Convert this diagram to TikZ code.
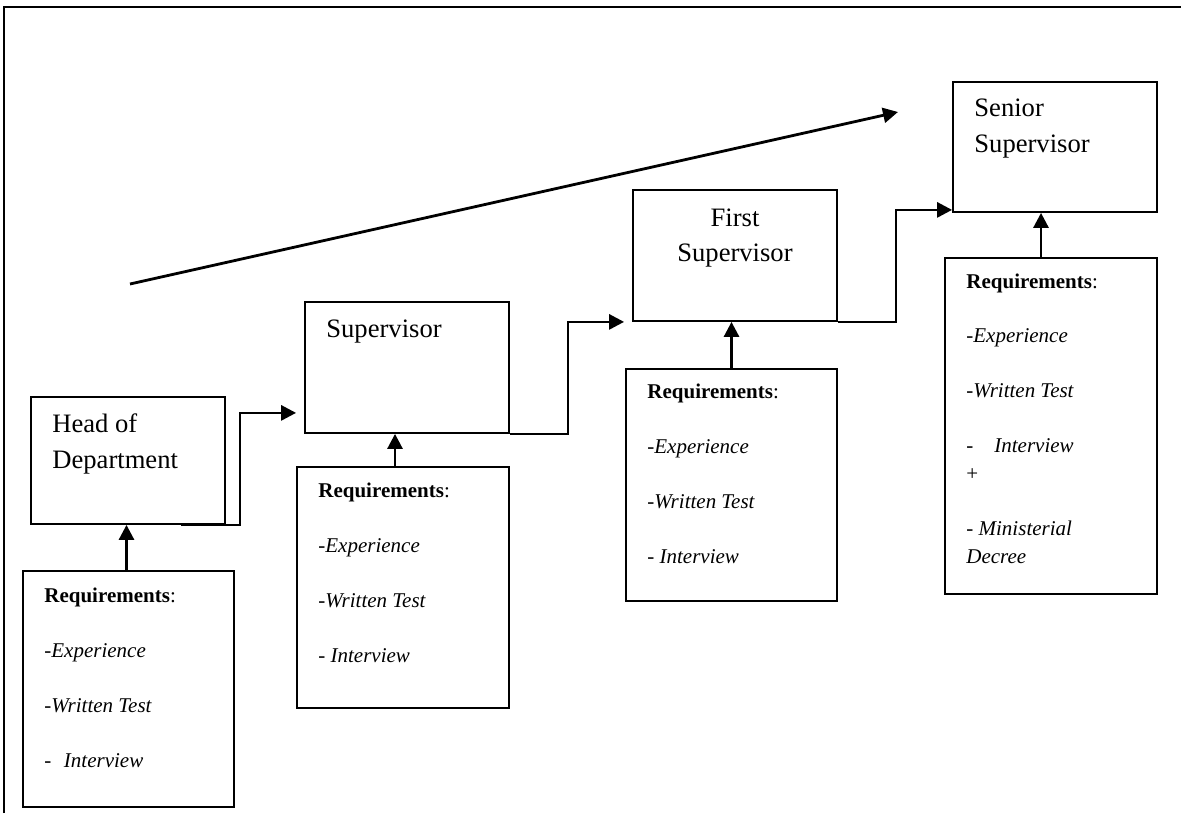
\documentclass[tikz,border=0pt]{standalone}
\usepackage{fontspec}
\setmainfont{Liberation Serif}
\usetikzlibrary{arrows.meta,fit,calc}
\tikzset{
  box/.style={draw, line width=0.9pt, inner sep=0pt, fit={#1}},
  conn/.style={line width=1.4pt, -{Triangle[length=7.5pt,width=7.5pt]}},
  ttl/.style={anchor=base west, inner sep=0pt, font=\fontsize{13.3}{16}\selectfont},
  ttlc/.style={anchor=base, inner sep=0pt, font=\fontsize{13.3}{16}\selectfont},
  req/.style={anchor=base west, inner sep=0pt, font=\fontsize{10.5}{13}\selectfont},
  frame/.style={line width=1pt}
}
\begin{document}
\begin{tikzpicture}[x=0.5pt,y=-0.5pt]
\useasboundingbox (0,0) rectangle (1181,813);
% outer frame
\draw[frame] (4,813) -- (4,7) -- (1181,7);
% position boxes
\node[box={(31,397) (225,524)}] (hod) {};
\node[box={(305,302) (509,433)}] (sup) {};
\node[box={(633,190) (837,321)}] (first) {};
\node[box={(953,82) (1157,212)}] (senior) {};
% requirement boxes
\node[box={(23,571) (234,807)}] (r1) {};
\node[box={(297,467) (509,708)}] (r2) {};
\node[box={(626,369) (837,601)}] (r3) {};
\node[box={(945,258) (1157,594)}] (r4) {};
% titles
\node[ttl] (hodA) at (52,432) {Head of};
\node[ttl] (hodB) at (52,468) {Department};
\node[ttl] (supA) at (326,337) {Supervisor};
\node[ttlc] (firstA) at (735,226) {First};
\node[ttlc] (firstB) at (735,261) {Supervisor};
\node[ttl] (senA) at (974,117) {Senior};
\node[ttl] (senB) at (974,152) {Supervisor};
% requirements 1
\node[req] (r1a) at (44,602) {\textbf{Requirements}:};
\node[req] (r1b) at (44,657) {-\textit{Experience}};
\node[req] (r1c) at (44,712) {-\textit{Written Test}};
\node[req] (r1d) at (44,767) {-\hspace{0.6em}\textit{Interview}};
% requirements 2
\node[req] (r2a) at (318,497) {\textbf{Requirements}:};
\node[req] (r2b) at (318,552) {-\textit{Experience}};
\node[req] (r2c) at (318,607) {-\textit{Written Test}};
\node[req] (r2d) at (318,662) {- \textit{Interview}};
% requirements 3
\node[req] (r3a) at (647,398) {\textbf{Requirements}:};
\node[req] (r3b) at (647,453) {-\textit{Experience}};
\node[req] (r3c) at (647,508) {-\textit{Written Test}};
\node[req] (r3d) at (647,563) {- \textit{Interview}};
% requirements 4
\node[req] (r4a) at (966,288) {\textbf{Requirements}:};
\node[req] (r4b) at (966,342) {-\textit{Experience}};
\node[req] (r4c) at (966,397) {-\textit{Written Test}};
\node[req] (r4d) at (966,452) {-\hspace{1em}\textit{Interview}};
\node[req] (r4e) at (966,480) {+};
\node[req] (r4f) at (966,535) {- \textit{Ministerial}};
\node[req] (r4g) at (966,563) {\textit{Decree}};
% step connectors
\coordinate (e1) at ($(sup.south west)+(-8,-21)$);
\coordinate (e2) at ($(first.south west)+(-8,0)$);
\coordinate (e3) at ($(senior.south west)+(0,-3)$);
\coordinate (s1) at ($(hod.south east)+(-45,0)$);
\draw[conn] (s1) -- ++(59,0) |- (e1);
\draw[conn] (sup.south east) -- ++(58,0) |- (e2);
\draw[conn] (first.south east) -- ++(58,0) |- (e3);
% requirement arrows
\coordinate (a1) at ($(r1.north)+(-2,0)$);
\coordinate (a2) at ($(r2.north)+(-8,0)$);
\coordinate (a3) at (r3.north);
\coordinate (a4) at ($(r4.north)+(-10,0)$);
\draw[conn] (a1) -- (a1 |- hod.south);
\draw[conn] (a2) -- (a2 |- sup.south);
\draw[conn] (a3) -- (a3 |- first.south);
\draw[conn] (a4) -- (a4 |- senior.south);
% rising arrow
\coordinate (d1) at (130,284);
\coordinate (d2) at (898,112);
\draw[conn] (d1) -- (d2);
\end{tikzpicture}
\end{document}
